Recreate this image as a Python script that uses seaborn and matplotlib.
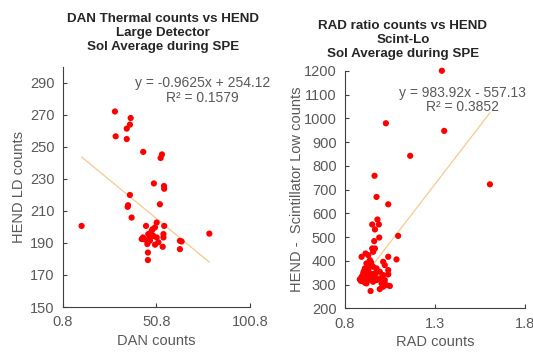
import matplotlib
matplotlib.use("Agg")
import matplotlib.pyplot as plt
import seaborn as sns
import pandas as pd
import numpy as np

# DAN thermal counts vs HEND large detector (sol averages)
dan_counts = [28.7, 37.1, 36.7, 35.0, 29.1, 35.0, 43.8, 53.8, 53.1, 49.5, 54.9, 55.0,
              36.7, 35.7, 52.7, 37.6, 10.9, 79.1, 63.4, 64.3, 63.4, 45.3, 51.0, 55.0,
              43.0, 44.6, 46.5, 48.3, 50.1, 46.0, 47.4, 51.0, 54.6, 54.6, 50.1, 51.9,
              54.2, 46.3, 46.3, 48.9, 43.7, 49.2, 47.4, 35.5]
hend_ld = [272.0, 267.9, 263.8, 261.3, 256.5, 254.8, 246.8, 245.2, 243.0, 227.1, 225.5, 223.8,
           219.9, 213.5, 214.1, 205.8, 200.6, 195.8, 191.3, 190.9, 186.1, 200.6, 202.7, 200.6,
           192.4, 192.2, 195.5, 197.6, 199.7, 189.3, 191.4, 193.4, 195.5, 193.4, 188.9, 190.4,
           187.6, 184.0, 179.3, 198.6, 193.4, 194.4, 193.4, 212.5]
dan_slope, dan_icpt, dan_r2 = -0.9625, 254.12, 0.1579

# RAD ratio counts vs HEND scintillator low
rad_counts = [1.339, 1.028, 1.352, 1.163, 1.606, 0.965, 0.976, 1.041, 0.981, 0.952, 0.989,
              0.967, 0.991, 1.096, 0.963, 0.952, 0.967, 0.957, 0.915, 0.893, 0.930, 0.939,
              1.041, 1.087, 1.013, 1.022, 0.920, 0.948, 0.911, 0.930, 1.041, 0.976, 0.994,
              0.902, 0.920, 0.948, 1.013, 1.041, 0.883, 0.902, 0.930, 0.957, 0.994, 1.022,
              0.911, 0.939, 0.967, 0.976, 1.031, 1.050, 1.013, 0.994, 0.943, 0.893, 0.930,
              0.957, 0.976, 1.004, 0.920, 0.925, 0.905, 0.935, 0.945, 0.915, 0.960, 0.890]
hend_scint_lo = [1200, 979, 947, 842, 722, 758, 669, 638, 574, 553, 553,
                 532, 498, 505, 483, 452, 452, 438, 431, 417, 424, 403,
                 417, 406, 396, 382, 389, 382, 368, 361, 361, 368, 354,
                 347, 340, 333, 340, 343, 322, 319, 319, 312, 326, 319,
                 308, 347, 340, 319, 298, 294, 291, 281, 273, 333, 389,
                 375, 354, 305, 305, 330, 355, 375, 395, 325, 345, 315]
rad_slope, rad_icpt, rad_r2 = 983.92, -557.13, 0.3852

sns.set_theme(style="white")
plt.rcParams['font.family'] = ['Liberation Sans', 'DejaVu Sans']

red = "#FF0000"
trend = "#F7C98C"
grey = "#595959"

fig = plt.figure(figsize=(5.33, 3.52), dpi=100)
ax1 = fig.add_axes([0.1176, 0.1278, 0.3514, 0.683])
ax2 = fig.add_axes([0.647, 0.124, 0.3377, 0.675])

df1 = pd.DataFrame({"dan": dan_counts, "hend": hend_ld})
df2 = pd.DataFrame({"rad": rad_counts, "hend": hend_scint_lo})

sns.scatterplot(data=df1, x="dan", y="hend", ax=ax1, color=red, s=20,
                edgecolor="none", zorder=3, clip_on=False)
sns.scatterplot(data=df2, x="rad", y="hend", ax=ax2, color=red, s=20,
                edgecolor="none", zorder=3, clip_on=False)

# trend lines over the data range
xs = np.array([min(dan_counts), max(dan_counts)])
ax1.plot(xs, dan_slope * xs + dan_icpt, color=trend, lw=0.9, zorder=2)
xs = np.array([min(rad_counts), max(rad_counts)])
ax2.plot(xs, rad_slope * xs + rad_icpt, color=trend, lw=0.9, zorder=2)

ax1.set_xlim(0.8, 100.8)
ax1.set_ylim(150, 300)
ax1.set_xticks([0.8, 50.8, 100.8])
ax1.set_xticklabels(["0.8", "50.8", "100.8"])
ax1.set_yticks(range(150, 300, 20))
ax1.set_xlabel("DAN counts", fontsize=10.5, color=grey, labelpad=3)
ax1.set_ylabel("HEND LD counts", fontsize=10.5, color=grey, labelpad=3)

ax2.set_xlim(0.8, 1.8)
ax2.set_ylim(200, 1200)
ax2.set_xticks([0.8, 1.3, 1.8])
ax2.set_xticklabels(["0.8", "1.3", "1.8"])
ax2.set_yticks(range(200, 1201, 100))
ax2.set_xlabel("RAD counts", fontsize=10.5, color=grey, labelpad=3)
ax2.set_ylabel("HEND -  Scintillator Low counts", fontsize=10.5, color=grey, labelpad=0)

for ax in (ax1, ax2):
    sns.despine(ax=ax)
    for sp in ("left", "bottom"):
        ax.spines[sp].set_color("#404040")
        ax.spines[sp].set_linewidth(0.8)
    ax.tick_params(direction="in", length=3, width=0.8, color="#404040",
                   labelsize=10.5, labelcolor=grey, pad=6)
    ax.tick_params(axis="y", left=True)
    ax.tick_params(axis="x", bottom=True)

ax1.text(0.745, 0.90, f"y = {dan_slope}x + {dan_icpt}\nR² = {dan_r2}",
         transform=ax1.transAxes, ha="center", va="center", fontsize=10,
         color=grey, linespacing=1.05)
ax2.text(0.656, 0.877, f"y = {rad_slope}x - {abs(rad_icpt)}\nR² = {rad_r2}",
         transform=ax2.transAxes, ha="center", va="center", fontsize=10,
         color=grey, linespacing=1.05)

fig.text(163 / 533, 1 - 33 / 352, "DAN Thermal counts vs HEND\nLarge Detector\nSol Average during SPE",
         ha="center", va="center", fontsize=9.6, fontweight="bold", color="#262626",
         linespacing=1.25)
fig.text(403 / 533, 1 - 40 / 352, "RAD ratio counts vs HEND\nScint-Lo\nSol Average during SPE",
         ha="center", va="center", fontsize=9.6, fontweight="bold", color="#262626",
         linespacing=1.25)

fig.savefig("out.png", dpi=100)
